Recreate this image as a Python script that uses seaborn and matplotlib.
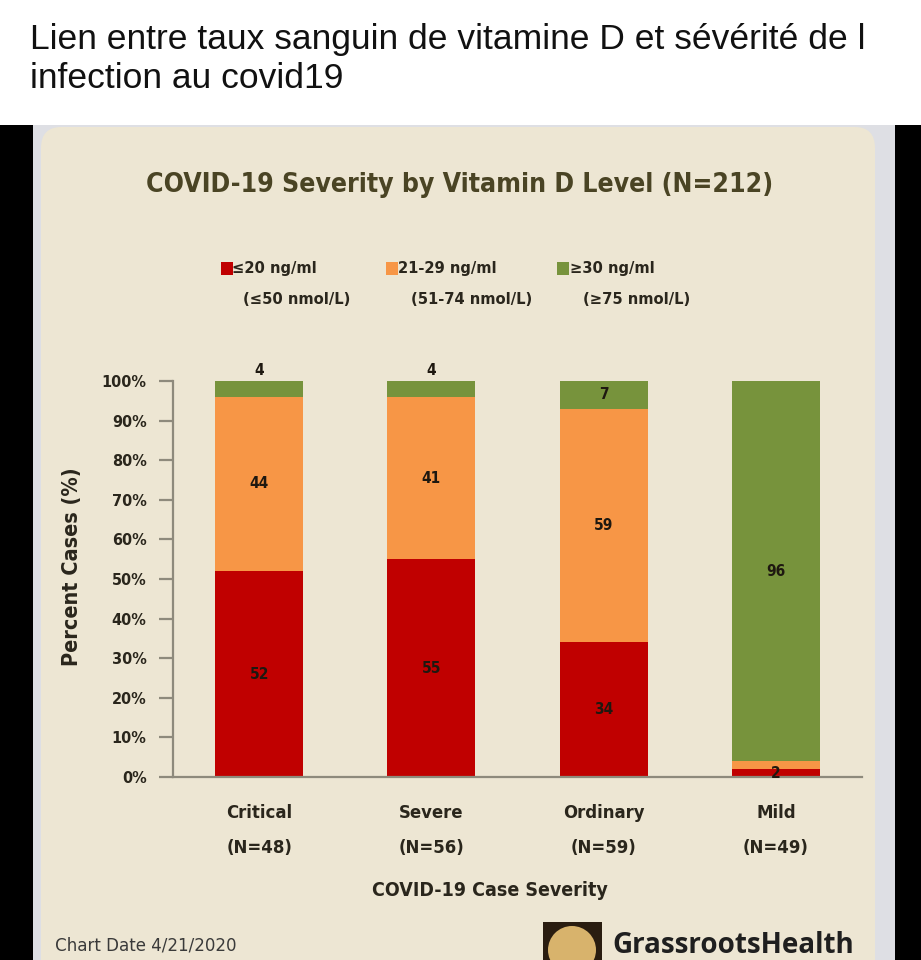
import numpy as np
import pandas as pd
import matplotlib
matplotlib.use("Agg")
import matplotlib.pyplot as plt
import seaborn as sns
from matplotlib import font_manager as fm
from matplotlib.font_manager import FontProperties
from matplotlib.patches import Rectangle, FancyBboxPatch, Ellipse

# ---------------- data ----------------
categories = ["Critical", "Severe", "Ordinary", "Mild"]
group_n = [48, 56, 59, 49]
low_vals = [52, 55, 34, 2]     # <=20 ng/ml
mid_vals = [44, 41, 59, 2]     # 21-29 ng/ml
high_vals = [4, 4, 7, 96]      # >=30 ng/ml
series_names = ["≤20 ng/ml", "21-29 ng/ml", "≥30 ng/ml"]
series_sub = ["(≤50 nmol/L)", "(51-74 nmol/L)", "(≥75 nmol/L)"]
yticks = list(range(0, 101, 10))
ytick_labels = [f"{v}%" for v in yticks]

header = "Lien entre taux sanguin de vitamine D et sévérité de l\ninfection au covid19"
title = "COVID-19 Severity by Vitamin D Level (N=212)"
xlabel = "COVID-19 Case Severity"
ylabel = "Percent Cases (%)"
footer_left = "Chart Date 4/21/2020"
footer_brand = "GrassrootsHealth"

# ---------------- style ----------------
RED = "#C00000"
ORANGE = "#F79646"
GREEN = "#77933C"
PANEL = "#EDE6D3"
TXT = "#2A261C"
LAB = "#1E1810"
TITLE_C = "#4A4424"
SPINE = "#8E8A7C"

sns.set_theme(style="white")
plt.rcParams["font.family"] = ["Liberation Sans", "DejaVu Sans"]


def _w(f):
    w = f.weight
    if isinstance(w, (int, float)):
        return int(w)
    return {"bold": 700, "heavy": 800, "black": 900, "semibold": 600, "demibold": 600,
            "medium": 500}.get(str(w).lower(), 400)


def pick_narrow(bold):
    cands = []
    for f in fm.fontManager.ttflist:
        key = (f.name + " " + f.fname).lower()
        st = str(f.stretch).lower()
        if "narrow" in key or "condensed" in key or st in ("condensed", "semi-condensed",
                                                           "extra-condensed", "ultra-condensed"):
            if "italic" in key or "oblique" in key or str(f.style).lower() != "normal":
                continue
            score = abs(_w(f) - (700 if bold else 400))
            cands.append((score, f.fname))
    if cands:
        cands.sort()
        return FontProperties(fname=cands[0][1])
    return FontProperties(family=["Roboto", "DejaVu Sans"], weight="bold" if bold else "normal")


FB = pick_narrow(True)
FR = pick_narrow(False)

W, H = 921, 960
def fx(x):
    return x / W
def fy(y):
    return 1 - y / H

fig = plt.figure(figsize=(W / 100, H / 100), dpi=100, facecolor="white")

# screenshot frame (behind axes)
fig.patches.append(Rectangle((0, 0), fx(33), fy(125), transform=fig.transFigure,
                             facecolor="black", edgecolor="none", zorder=-3))
fig.patches.append(Rectangle((fx(895), 0), 1 - fx(895), fy(125), transform=fig.transFigure,
                             facecolor="black", edgecolor="none", zorder=-3))
fig.patches.append(Rectangle((fx(33), 0), fx(895) - fx(33), fy(125), transform=fig.transFigure,
                             facecolor="#DEDFE4", edgecolor="none", zorder=-3))
fig.patches.append(FancyBboxPatch((fx(41), -0.05), fx(875) - fx(41), fy(127) + 0.05,
                                  boxstyle="round,pad=0,rounding_size=0.022",
                                  transform=fig.transFigure, facecolor=PANEL,
                                  edgecolor="none", zorder=-2))

t_header = fig.text(fx(30), fy(59), header, ha="left", va="center", fontsize=25,
                    color="#111111", linespacing=1.2, family=["Liberation Sans", "DejaVu Sans"])

# ---------------- chart ----------------
ax = fig.add_axes([fx(173), fy(777), fx(862) - fx(173), fy(381) - fy(777)])
ax.set_facecolor("none")

df = pd.DataFrame({"severity": categories, "low": low_vals, "mid": mid_vals, "high": high_vals})
df["cum_mid"] = df["low"] + df["mid"]
df["cum_high"] = df["cum_mid"] + df["high"]

for col, c in [("cum_high", GREEN), ("cum_mid", ORANGE), ("low", RED)]:
    sns.barplot(data=df, x="severity", y=col, color=c, width=0.51, saturation=1,
                edgecolor="none", linewidth=0, ax=ax, order=categories)

ax.set_xlim(-0.5, 3.5)
ax.set_ylim(0, 100)
ax.set_xlabel("")
ax.set_ylabel("")
ax.set_yticks(yticks, ytick_labels)
ax.set_xticks(range(len(categories)), [f"{c}\n(N={n})" for c, n in zip(categories, group_n)])
for s in ["top", "right"]:
    ax.spines[s].set_visible(False)
for s in ["left", "bottom"]:
    ax.spines[s].set_color(SPINE)
    ax.spines[s].set_linewidth(1.6)
ax.tick_params(axis="y", length=10, width=1.6, color=SPINE, pad=9, left=True)
ax.tick_params(axis="x", length=0, pad=10)
XL_SPACING = 1.45
for lbl in ax.get_yticklabels():
    lbl.set_fontproperties(FB); lbl.set_fontsize(14.5); lbl.set_color(TXT)
for lbl in ax.get_xticklabels():
    lbl.set_fontproperties(FB); lbl.set_fontsize(16); lbl.set_color(TXT)
    lbl.set_linespacing(XL_SPACING)

bar_texts = []
for i in range(len(categories)):
    segs = [(low_vals[i], 0), (mid_vals[i], low_vals[i]), (high_vals[i], low_vals[i] + mid_vals[i])]
    for j, (v, b) in enumerate(segs):
        if v >= 5 or j == 0:
            t = ax.text(i, b + v / 2, str(v), va="center", ha="center", color=LAB,
                        fontproperties=FB, fontsize=13)
            bar_texts.append(t)
        elif j == 2:
            t = ax.annotate(str(v), (i, b + v), xytext=(0, 2), textcoords="offset points",
                            va="bottom", ha="center", color=LAB,
                            fontproperties=FB, fontsize=13)
            bar_texts.append(t)

# ---------------- titles & legend ----------------
t_title = fig.text(fx(460), fy(185), title, ha="center", va="center", fontsize=25,
                   color=TITLE_C, fontproperties=FB)
t_xlab = fig.text(fx(490), fy(890), xlabel, ha="center", va="center", fontsize=18,
                  color=TXT, fontproperties=FB)
t_ylab = fig.text(fx(72), fy(567), ylabel, ha="center", va="center", rotation=90,
                  fontsize=19.5, color=TXT, fontproperties=FB)

sq_x = [221, 386, 557]
l1_x = [232, 398, 570]
l2_x = [243, 411, 583]
leg_texts = []
for k, c in enumerate([RED, ORANGE, GREEN]):
    fig.patches.append(Rectangle((fx(sq_x[k]), fy(275)), fx(12), 13 / H,
                                 transform=fig.transFigure, facecolor=c, edgecolor="none"))
    leg_texts.append(fig.text(fx(l1_x[k]), fy(268), series_names[k], ha="left", va="center",
                              fontsize=16, color=TXT, fontproperties=FB))
    leg_texts.append(fig.text(fx(l2_x[k]), fy(300), series_sub[k], ha="left", va="center",
                              fontsize=16, color=TXT, fontproperties=FB))

# ---------------- footer ----------------
t_foot = fig.text(fx(55), fy(945), footer_left, ha="left", va="center", fontsize=16,
                  color="#3A3A3A", fontproperties=FR)
fig.patches.append(Rectangle((fx(543), 0), fx(59), fy(922), transform=fig.transFigure,
                             facecolor="#2A1D10", edgecolor="none"))
fig.patches.append(Ellipse((fx(572), fy(950)), fx(48), 48 / H, transform=fig.transFigure,
                           facecolor="#D8B36C", edgecolor="none"))
fig.text(fx(612), 0.0, footer_brand, ha="left", va="bottom", fontsize=20,
         fontweight="bold", color="#1F1F1F", family=["Open Sans", "DejaVu Sans"])

# ---------------- fit text sizes to the reference ----------------
fig.canvas.draw()
R = fig.canvas.get_renderer()


def fit(t, target, dim="w"):
    bb = t.get_window_extent(R)
    cur = bb.width if dim == "w" else bb.height
    if cur > 0:
        t.set_fontsize(t.get_fontsize() * target / cur)
    return t.get_fontsize()


fit(t_header, 836)
fit(t_title, 630)
fit(t_xlab, 236)
fit(t_ylab, 198, "h")
fit(t_foot, 182)
s = fit(leg_texts[3], 122)
for t in leg_texts:
    t.set_fontsize(s)
yl = ax.get_yticklabels()
s = fit(yl[-1], 45)
for t in yl:
    t.set_fontsize(s)
xl = ax.get_xticklabels()
s = fit(xl[0], 66)
for t in xl:
    t.set_fontsize(s)
s = fit(bar_texts[0], 19)
for t in bar_texts:
    t.set_fontsize(s)

# x tick label line spacing (35 px between lines) and position (first line at y=813)
fig.canvas.draw()
R = fig.canvas.get_renderer()
tmp = fig.text(0, 0, "Critical", fontproperties=FB, fontsize=xl[0].get_fontsize())
h1 = tmp.get_window_extent(R).height
tmp.remove()
for _ in range(3):
    H2 = xl[0].get_window_extent(R).height
    gap = H2 - h1
    if gap > 0:
        XL_SPACING = XL_SPACING * 35 / gap
        for t in xl:
            t.set_linespacing(XL_SPACING)
    fig.canvas.draw()
    R = fig.canvas.get_renderer()
pad_px = 813 - h1 / 2 - 777
ax.tick_params(axis="x", pad=pad_px * 72 / 100)

fig.savefig("out.png", dpi=100, facecolor="white")
